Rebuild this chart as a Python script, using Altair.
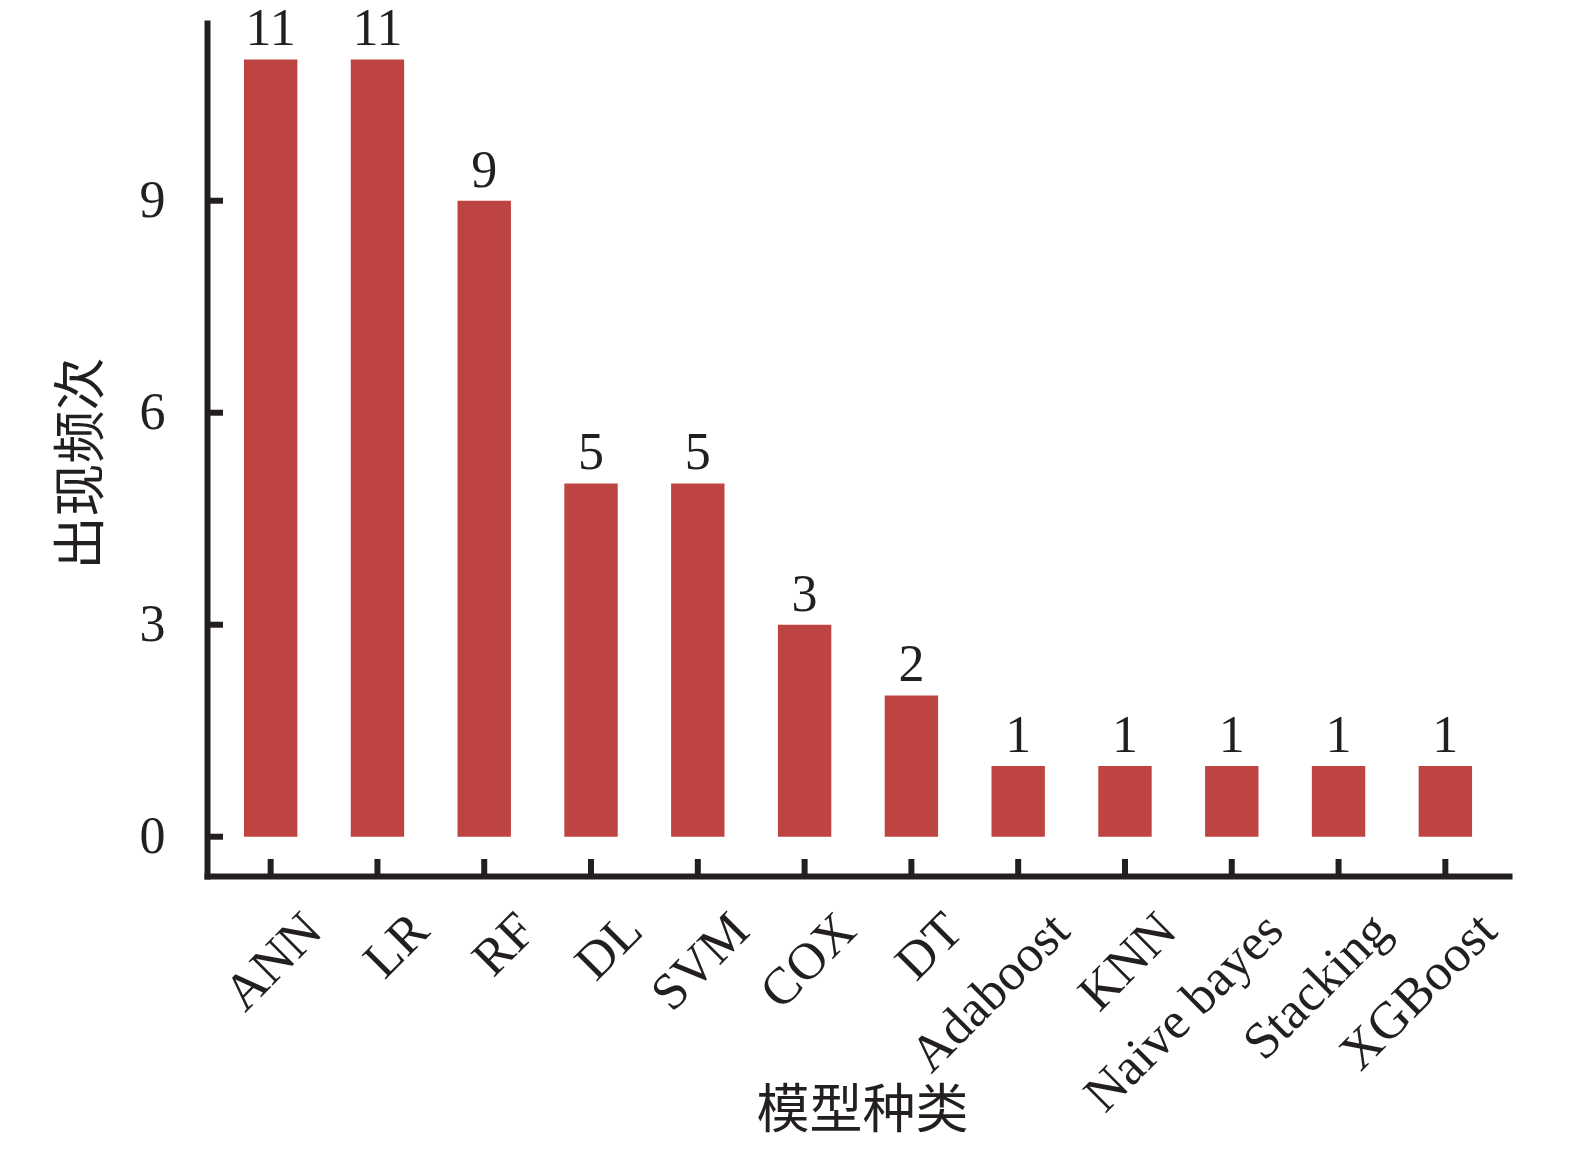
import altair as alt
import pandas as pd

models = ["ANN", "LR", "RF", "DL", "SVM", "COX", "DT", "Adaboost", "KNN",
          "Naive bayes", "Stacking", "XGBoost"]
counts = [11, 11, 9, 5, 5, 3, 2, 1, 1, 1, 1, 1]
y_ticks = [0, 3, 6, 9]

df = pd.DataFrame({"model": models, "count": counts})
tick_df = pd.DataFrame({"count": y_ticks})

INK = "#231f20"
BAR = "#be4441"
SERIF = "Liberation Serif"
CJK = "Noto Sans CJK SC"

W, H = 1302, 853

x_axis = alt.Axis(title="模型种类", labelAngle=315, labelAlign="right",
                  labelBaseline="alphabetic", labelPadding=57, labelOffset=54,
                  labelLimit=0, ticks=False, tickSize=0,
                  titleX=655, titleY=235, titleAlign="center",
                  titleBaseline="middle")
y_axis = alt.Axis(title="出现频次", values=y_ticks, labelPadding=42,
                  ticks=False, tickSize=0, titleX=-125, titleY=440,
                  titleAngle=270, titleAlign="center", titleBaseline="middle")
y_scale = alt.Scale(domain=[-0.556, 11.515], nice=False, zero=False)
x_scale = alt.Scale(paddingInner=0.5, paddingOuter=0.346)

def X():
    return alt.X("model:N", sort=models, scale=x_scale, axis=x_axis)

def Y():
    return alt.Y("count:Q", scale=y_scale, axis=y_axis)

base = alt.Chart(df)

bars = base.mark_bar(color=BAR).encode(x=X(), y=Y(), y2=alt.datum(0))

labels = base.mark_text(baseline="alphabetic", dy=-14, font=SERIF,
                        fontSize=52, color=INK).encode(
    x=X(), y=Y(), text="count:Q")

xticks = base.mark_rule(strokeWidth=6, color=INK).encode(
    x=X(), y=alt.value(H - 17), y2=alt.value(H))

yticks = alt.Chart(tick_df).mark_rule(strokeWidth=6, color=INK).encode(
    y=Y(), x=alt.value(0), x2=alt.value(16))

chart = alt.layer(bars, labels, xticks, yticks).properties(
    width=W, height=H,
    autosize=alt.AutoSizeParams(type="none"),
    padding={"left": 199, "top": 15, "right": 40, "bottom": 264},
).configure_view(strokeWidth=0).configure_axis(
    domainColor=INK, domainWidth=6, domainCap="square",
    labelFont=SERIF, labelFontSize=52, labelColor=INK,
    titleFont=CJK, titleFontSize=53, titleFontWeight="normal",
    titleColor=INK, grid=False)

chart.save("out.html", embed_options={"renderer": "svg", "actions": False})
